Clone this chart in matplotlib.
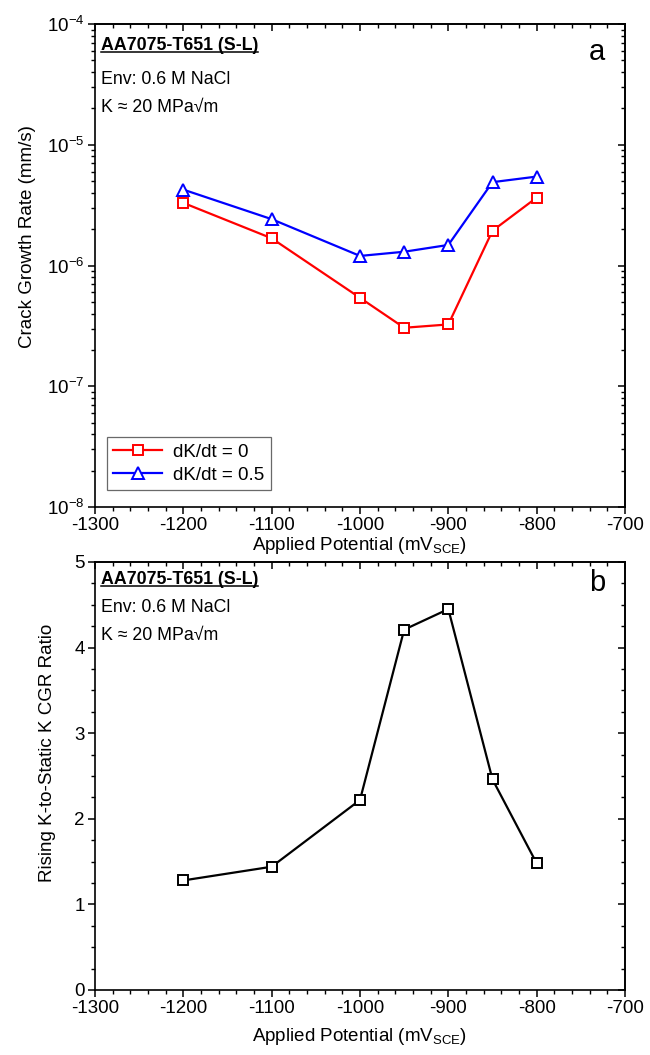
import matplotlib
matplotlib.use("Agg")
import matplotlib.pyplot as plt
from matplotlib.ticker import MultipleLocator, LogLocator, NullFormatter, FixedLocator
from matplotlib.lines import Line2D

plt.rcParams['font.family'] = ['Liberation Sans', 'DejaVu Sans']
plt.rcParams['axes.unicode_minus'] = False
plt.rcParams['mathtext.fontset'] = 'custom'
plt.rcParams['mathtext.rm'] = 'Liberation Sans'
plt.rcParams['mathtext.it'] = 'Liberation Sans:italic'
plt.rcParams['mathtext.bf'] = 'Liberation Sans:bold'

# ---- data ----
potential = [-1200, -1100, -1000, -950, -900, -850, -800]
cgr_static = [3.3e-6, 1.68e-6, 5.4e-7, 3.05e-7, 3.25e-7, 1.94e-6, 3.65e-6]
cgr_rising = [4.25e-6, 2.42e-6, 1.2e-6, 1.3e-6, 1.48e-6, 4.9e-6, 5.45e-6]
ratio = [1.28, 1.44, 2.22, 4.21, 4.45, 2.46, 1.48]
legend_labels = ["dK/dt = 0", "dK/dt = 0.5"]
xticks = [-1300, -1200, -1100, -1000, -900, -800, -700]
info_lines = ["AA7075-T651 (S-L)", "Env: 0.6 M NaCl", "K \u2248 20 MPa\u221am"]
panel_labels = ["a", "b"]

W, H = 650, 1055
fig = plt.figure(figsize=(W / 100, H / 100), dpi=100)
ax1 = fig.add_axes([95 / W, 1 - 507 / H, 530 / W, 483 / H])
ax2 = fig.add_axes([95 / W, 1 - 990 / H, 530 / W, 428 / H])

FS = 13.5
xlabel = r'Applied Potential (mV$_\mathregular{SCE}$)'

for ax, lp in ((ax1, 0.5), (ax2, 6.5)):
    for sp in ax.spines.values():
        sp.set_linewidth(1.2)
    ax.set_xlim(-1300, -700)
    ax.xaxis.set_major_locator(FixedLocator(xticks))
    ax.xaxis.set_minor_locator(MultipleLocator(20))
    ax.set_xlabel(xlabel, fontsize=FS, labelpad=lp)
    ax.tick_params(which='major', direction='out', length=5, width=1.1, labelsize=FS, pad=2.5)
    ax.tick_params(which='minor', direction='out', length=2.8, width=1.0)
    secx = ax.secondary_xaxis('top')
    secx.xaxis.set_major_locator(FixedLocator(xticks))
    secx.xaxis.set_minor_locator(MultipleLocator(20))
    secx.tick_params(which='major', direction='in', length=5, width=1.1, labeltop=False)
    secx.tick_params(which='minor', direction='in', length=2.8, width=1.0)
    secx.spines['top'].set_linewidth(1.2)

# ---- panel a ----
ax1.set_yscale('log')
ax1.set_ylim(1e-8, 1e-4)
ax1.yaxis.set_major_locator(LogLocator(base=10, numticks=10))
ax1.yaxis.set_minor_locator(LogLocator(base=10, subs=range(2, 10), numticks=20))
ax1.yaxis.set_minor_formatter(NullFormatter())
ax1.plot(potential, cgr_static, color='#FF0000', lw=1.6, marker='s', ms=7.5,
         mfc='white', mec='#FF0000', mew=1.4, label=legend_labels[0])
ax1.plot(potential, cgr_rising, color='#0000FF', lw=1.6, marker='^', ms=9,
         mfc='white', mec='#0000FF', mew=1.4, label=legend_labels[1])
ax1.set_ylabel('Crack Growth Rate (mm/s)', fontsize=FS)
ax1.yaxis.set_label_coords(-0.112, 0.56)
secy1 = ax1.secondary_yaxis('right')
secy1.yaxis.set_major_locator(LogLocator(base=10, numticks=10))
secy1.yaxis.set_minor_locator(LogLocator(base=10, subs=range(2, 10), numticks=20))
secy1.tick_params(which='major', direction='in', length=5, width=1.1, labelright=False)
secy1.tick_params(which='minor', direction='in', length=2.8, width=1.0, labelright=False)
secy1.yaxis.set_minor_formatter(NullFormatter())
secy1.spines['right'].set_linewidth(1.2)
leg = ax1.legend(loc='lower left', bbox_to_anchor=(0.022, 0.035), borderaxespad=0,
                 fontsize=FS, frameon=True, fancybox=False, handlelength=2.6,
                 handletextpad=0.6, borderpad=0.35, labelspacing=0.3)
leg.get_frame().set_edgecolor('#444444')
leg.get_frame().set_linewidth(0.9)

# ---- panel b ----
ax2.set_ylim(0, 5)
ax2.yaxis.set_major_locator(MultipleLocator(1))
ax2.yaxis.set_minor_locator(MultipleLocator(0.25))
ax2.plot(potential, ratio, color='black', lw=1.6, marker='s', ms=7.5,
         mfc='white', mec='black', mew=1.4)
ax2.set_ylabel('Rising K-to-Static K CGR Ratio', fontsize=FS)
ax2.yaxis.set_label_coords(-0.074, 0.553)
secy2 = ax2.secondary_yaxis('right')
secy2.yaxis.set_major_locator(MultipleLocator(1))
secy2.yaxis.set_minor_locator(MultipleLocator(0.25))
secy2.tick_params(which='major', direction='in', length=5, width=1.1, labelright=False)
secy2.tick_params(which='minor', direction='in', length=2.8, width=1.0, labelright=False)
secy2.spines['right'].set_linewidth(1.2)

# ---- annotations ----
titles = []
for ax, offs, lab, loff in ((ax1, (-22, -56, -84), panel_labels[0], (-28, -28)),
                            (ax2, (-18, -46, -74), panel_labels[1], (-28, -21))):
    t = ax.annotate(info_lines[0], xy=(0, 1), xycoords='axes fraction',
                    xytext=(6, offs[0]), textcoords='offset pixels',
                    fontsize=12.8, fontweight='bold', va='center', ha='left')
    titles.append(t)
    for line, o in zip(info_lines[1:], offs[1:]):
        ax.annotate(line, xy=(0, 1), xycoords='axes fraction',
                    xytext=(6, o), textcoords='offset pixels',
                    fontsize=12.8, va='center', ha='left')
    ax.annotate(lab, xy=(1, 1), xycoords='axes fraction', xytext=loff,
                textcoords='offset pixels', fontsize=21, va='center', ha='center')

fig.canvas.draw()
r = fig.canvas.get_renderer()
for t in titles:
    bb = t.get_window_extent(r)
    y = (bb.y0 + 2.3) / H
    fig.add_artist(Line2D([bb.x0 / W, bb.x1 / W], [y, y], transform=fig.transFigure,
                          color='black', lw=1.1))

fig.savefig('out.png', dpi=100)
